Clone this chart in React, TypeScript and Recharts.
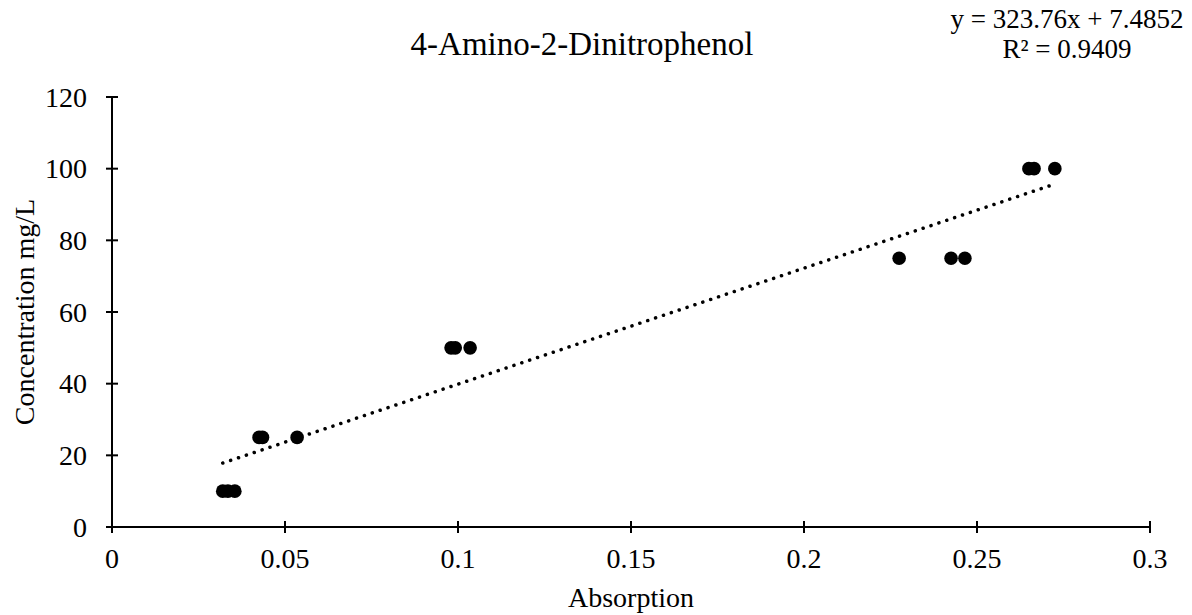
import { Scatter, ScatterChart, XAxis, YAxis } from "recharts";

const absorbance10 = [0.032, 0.0335, 0.0355];
const absorbance25 = [0.0425, 0.0435, 0.0535];
const absorbance50 = [0.098, 0.0992, 0.1035];
const absorbance75 = [0.2275, 0.2425, 0.2465];
const absorbance100 = [0.265, 0.2665, 0.2725];
const concentrations = [10, 25, 50, 75, 100];

const xTicks = [0, 0.05, 0.1, 0.15, 0.2, 0.25, 0.3];
const yTicks = [0, 20, 40, 60, 80, 100, 120];

// linear trendline from the fitted equation
const SLOPE = 323.76;
const INTERCEPT = 7.4852;
const R_SQUARED = 0.9409;

const FONT = '"Liberation Serif", "Times New Roman", serif';

const groups = [absorbance10, absorbance25, absorbance50, absorbance75, absorbance100];
const points = groups.flatMap((xs, i) =>
  xs.map((x) => ({ x, y: concentrations[i] }))
);

const allX = points.map((p) => p.x);
const xMin = Math.min(...allX);
const xMax = Math.max(...allX);
const trend = [
  { x: xMin, y: SLOPE * xMin + INTERCEPT },
  { x: xMax, y: SLOPE * xMax + INTERCEPT },
];

const XTick = (props: any) => {
  const { x, y, payload } = props;
  return (
    <g>
      <line x1={x} x2={x} y1={y - 6} y2={y + 6} stroke="#000" strokeWidth={2} />
      <text x={x} y={y + 41} textAnchor="middle" fontFamily={FONT} fontSize={28} fill="#000">
        {payload.value}
      </text>
    </g>
  );
};

const YTick = (props: any) => {
  const { x, y, payload } = props;
  return (
    <g>
      <line x1={x - 6} x2={x + 6} y1={y} y2={y} stroke="#000" strokeWidth={2} />
      <text x={x - 25} y={y + 9.5} textAnchor="end" fontFamily={FONT} fontSize={28} fill="#000">
        {payload.value}
      </text>
    </g>
  );
};

const Dot = (props: any) => {
  const { cx, cy } = props;
  return <circle cx={cx} cy={cy} r={6.8} fill="#000" />;
};

export default function App() {
  return (
    <div
      style={{
        position: "absolute",
        left: 0,
        top: 0,
        width: 1192,
        height: 615,
        background: "#fff",
        fontFamily: FONT,
      }}
    >
      <div
        style={{
          position: "absolute",
          left: 332,
          width: 500,
          top: 28,
          textAlign: "center",
          fontSize: 33,
          lineHeight: "33px",
          color: "#000",
          whiteSpace: "nowrap",
        }}
      >
        4-Amino-2-Dinitrophenol
      </div>
      <div
        style={{
          position: "absolute",
          left: 917,
          width: 300,
          top: 4,
          textAlign: "center",
          fontSize: 27,
          lineHeight: "30px",
          color: "#000",
          whiteSpace: "nowrap",
        }}
      >
        <div>y = {SLOPE}x + {INTERCEPT}</div>
        <div>R² = {R_SQUARED}</div>
      </div>
      <ScatterChart
        width={1192}
        height={615}
        margin={{ top: 97, right: 42, bottom: 0, left: 0 }}
      >
        <XAxis
          type="number"
          dataKey="x"
          domain={[0, 0.3]}
          ticks={xTicks}
          interval={0}
          height={88}
          axisLine={{ stroke: "#000", strokeWidth: 2 }}
          tickLine={false}
          tickSize={0}
          tickMargin={0}
          tick={<XTick />}
          label={{
            value: "Absorption",
            position: "insideBottom",
            offset: 8,
            fontFamily: FONT,
            fontSize: 28,
            fill: "#000",
          }}
        />
        <YAxis
          type="number"
          dataKey="y"
          domain={[0, 120]}
          ticks={yTicks}
          interval={0}
          width={112}
          axisLine={{ stroke: "#000", strokeWidth: 2 }}
          tickLine={false}
          tickSize={0}
          tickMargin={0}
          tick={<YTick />}
          label={{
            value: "Concentration mg/L",
            angle: -90,
            position: "insideLeft",
            offset: 24,
            style: { textAnchor: "middle" },
            fontFamily: FONT,
            fontSize: 28,
            fill: "#000",
          }}
        />
        <Scatter
          data={trend}
          line={{
            stroke: "#000",
            strokeWidth: 3.5,
            strokeDasharray: "0.1 8.2",
            strokeLinecap: "round",
          }}
          shape={() => <g />}
          isAnimationActive={false}
        />
        <Scatter data={points} shape={<Dot />} isAnimationActive={false} />
      </ScatterChart>
    </div>
  );
}
